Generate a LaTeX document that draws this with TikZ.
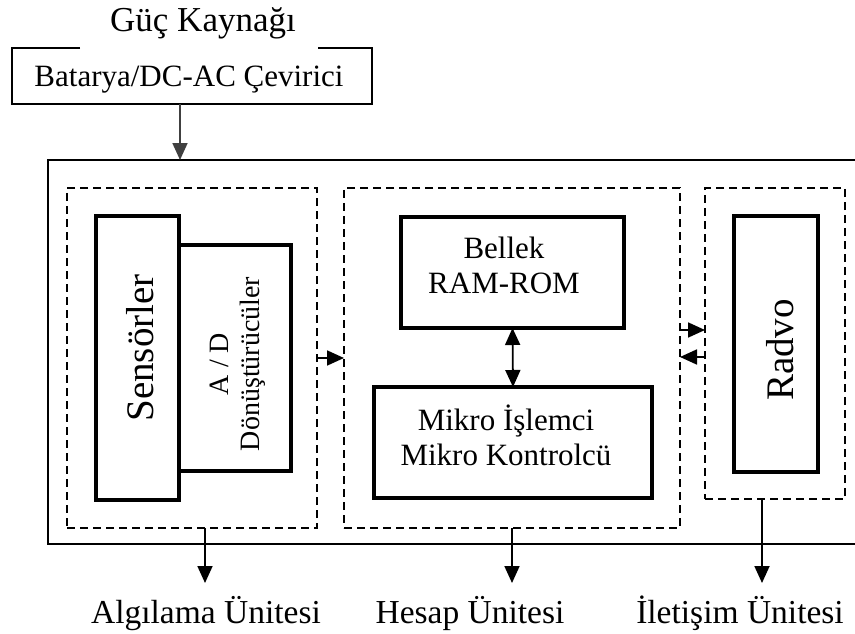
\documentclass[tikz,border=0pt]{standalone}
\usepackage{fontspec}
\setmainfont{Liberation Serif}
\usetikzlibrary{arrows.meta,calc}

\tikzset{
  thinframe/.style={draw, line width=1.8pt, inner sep=0pt, outer sep=0pt},
  unitbox/.style={draw, dash pattern=on 8pt off 5pt, line width=1.8pt, inner sep=0pt, outer sep=0pt},
  partbox/.style={draw, line width=3.8pt, inner sep=0pt, outer sep=0pt, fill=white},
  arr/.style={-{Triangle[length=17pt,width=15pt]}, line width=1.8pt},
  biarr/.style={{Triangle[length=17pt,width=15pt]}-{Triangle[length=17pt,width=15pt]}, line width=1.8pt},
  txt/.style={inner sep=0pt, align=center},
}

\begin{document}
\begin{tikzpicture}[x=1pt, y=-1pt]
\useasboundingbox (0,0) rectangle (855,634);

% power supply
\node[txt, anchor=base, font=\fontsize{35}{40}\selectfont] (title) at (203,32) {Güç Kaynağı};
\node[inner sep=0pt, outer sep=0pt, minimum width=360pt, minimum height=56pt] (batt) at (192,76) {};
\node[txt, anchor=base, font=\fontsize{31}{36}\selectfont] (batt-t) at (189,87) {Batarya/DC-AC Çevirici};
\draw[line width=1.8pt] ($(batt.north west)+(68,0)$) -- (batt.north west) -- (batt.south west)
  -- (batt.south east) -- (batt.north east) -- ($(batt.north east)+(-54,0)$);

% sensor node frame (runs past the right edge)
\node[thinframe, minimum width=827pt, minimum height=384pt] (outer) at (461.5,352) {};

% sensing unit
\node[unitbox, minimum width=250pt, minimum height=340pt] (alg) at (192,358) {};
\node[partbox, minimum width=112pt, minimum height=226pt] (adc) at (235,358) {};
\node[partbox, minimum width=83pt, minimum height=284pt] (sens) at (137.5,358) {};
\node[txt, rotate=90, font=\fontsize{28}{31}\selectfont] (adc-t) at (238,364) {A / D\\Dönüştürücüler};
\node[txt, rotate=90, font=\fontsize{39}{42}\selectfont] (sens-t) at (140,348) {Sensörler};

% processing unit
\node[unitbox, minimum width=336pt, minimum height=340pt] (hes) at (512,358) {};
\node[partbox, minimum width=223pt, minimum height=111pt] (mem) at (512.5,272.5) {};
\node[partbox, minimum width=278pt, minimum height=111pt] (cpu) at (513,442.5) {};
\node[txt, font=\fontsize{31}{35}\selectfont] (mem-t) at (504,265) {Bellek\\RAM-ROM};
\node[txt, font=\fontsize{31}{35}\selectfont] (cpu-t) at (506,435) {Mikro İşlemci\\Mikro Kontrolcü};

% communication unit
\node[unitbox, minimum width=140pt, minimum height=311pt] (ilt) at (775,343.5) {};
\node[partbox, minimum width=84pt, minimum height=256pt] (radio) at (776,344) {};
\node[txt, rotate=90, font=\fontsize{39}{42}\selectfont] (radio-t) at (780,350) {Radvo};

% unit names
\node[txt, anchor=base, font=\fontsize{33.5}{38}\selectfont] (lab1) at (206,623) {Algılama Ünitesi};
\node[txt, anchor=base, font=\fontsize{33.5}{38}\selectfont] (lab2) at (470,623) {Hesap Ünitesi};
\node[txt, anchor=base, font=\fontsize{33.5}{38}\selectfont] (lab3) at (740,623) {İletişim Ünitesi};

% helper levels
\coordinate (pin) at (180,0);
\coordinate (upper) at (0,330);
\coordinate (lower) at (0,357);
\coordinate (tips) at (0,583);
\coordinate (d1) at (205,0);
\coordinate (d3) at (762,0);

% connectors
\draw[arr, draw=black!75, fill=black] (batt.south -| pin) -- (outer.north -| pin);
\draw[arr] (alg.east) -- (hes.west);
\draw[biarr] (mem.south) -- (cpu.north);
\draw[arr] (hes.east |- upper) -- (ilt.west |- upper);
\draw[arr] (ilt.west |- lower) -- (hes.east |- lower);
\draw[arr] (alg.south -| d1) -- (tips -| d1);
\draw[arr] (hes.south) -- (tips -| hes.south);
\draw[arr] (ilt.south -| d3) -- (tips -| d3);
\end{tikzpicture}
\end{document}
